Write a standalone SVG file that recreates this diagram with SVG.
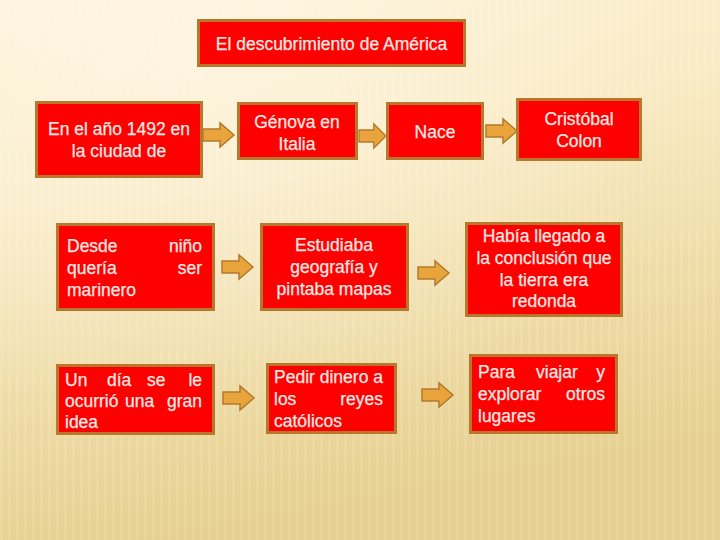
<svg xmlns="http://www.w3.org/2000/svg" width="720" height="540" viewBox="0 0 720 540">
<style>
.box{fill:#fe0000;stroke:#b8772d;stroke-width:3}
.t{font-family:"Liberation Sans",Arial,sans-serif;font-size:17.5px;fill:#f6e8e4;stroke:#f6e8e4;stroke-width:0.25}
.c{text-anchor:middle}
.e{text-anchor:end}
.arr{fill:#e9a53c;stroke:#b27a2f;stroke-width:1.5}
</style>
<defs>
<linearGradient id="bg" x1="0" y1="0" x2="0.25" y2="1">
<stop offset="0" stop-color="#fdf2d6"/>
<stop offset="0.35" stop-color="#f9ebc4"/>
<stop offset="1" stop-color="#e6d08f"/>
</linearGradient>
<radialGradient id="glow" cx="0.25" cy="0.1" r="0.7">
<stop offset="0" stop-color="#fffaf0" stop-opacity="0.5"/>
<stop offset="1" stop-color="#fffaf0" stop-opacity="0"/>
</radialGradient>
<pattern id="stripes" width="8" height="8" patternUnits="userSpaceOnUse">
<rect x="0" y="0" width="3" height="8" fill="#ffffff" opacity="0.1"/>
</pattern>
<path id="arrow" d="M0,-6 H17 V-12 L31,0 L17,12 V6 H0 Z"/>
</defs>
<rect width="720" height="540" fill="url(#bg)"/>
<rect width="720" height="540" fill="url(#glow)"/>
<rect width="720" height="540" fill="url(#stripes)"/>

<g id="connectors">
<use href="#arrow" class="arr" transform="translate(203,135)"/>
<use href="#arrow" class="arr" transform="translate(359,136) scale(0.87,1)"/>
<use href="#arrow" class="arr" transform="translate(486,131)"/>
<use href="#arrow" class="arr" transform="translate(222,267)"/>
<use href="#arrow" class="arr" transform="translate(418,273)"/>
<use href="#arrow" class="arr" transform="translate(223,398)"/>
<use href="#arrow" class="arr" transform="translate(422,395)"/>
</g>

<g id="title">
<rect class="box" x="198.5" y="20.5" width="266" height="45"/>
<text class="t c" x="331.5" y="50">El descubrimiento de América</text>
</g>
<g id="n1">
<rect class="box" x="36.5" y="102.5" width="165" height="74"/>
<text class="t c" x="119" y="135">En el año 1492 en</text>
<text class="t c" x="119" y="157">la ciudad de</text>
</g>
<g id="n2">
<rect class="box" x="238.5" y="103.5" width="118" height="55"/>
<text class="t c" x="297" y="128">Génova en</text>
<text class="t c" x="297" y="150">Italia</text>
</g>
<g id="n3">
<rect class="box" x="387.5" y="103.5" width="95" height="55"/>
<text class="t c" x="435" y="138">Nace</text>
</g>
<g id="n4">
<rect class="box" x="517.5" y="99.5" width="123" height="60"/>
<text class="t c" x="579" y="125">Cristóbal</text>
<text class="t c" x="579" y="147">Colon</text>
</g>
<g id="n5">
<rect class="box" x="57.5" y="224.5" width="156" height="85"/>
<text class="t" x="67" y="252">Desde</text>
<text class="t e" x="202" y="252">niño</text>
<text class="t" x="67" y="274">quería</text>
<text class="t e" x="202" y="274">ser</text>
<text class="t" x="67" y="296">marinero</text>
</g>
<g id="n6">
<rect class="box" x="261.5" y="224.5" width="146" height="85"/>
<text class="t c" x="334" y="251">Estudiaba</text>
<text class="t c" x="334" y="273">geografía y</text>
<text class="t c" x="334" y="295">pintaba mapas</text>
</g>
<g id="n7">
<rect class="box" x="466.5" y="223.5" width="155" height="92"/>
<text class="t c" x="544" y="242">Había llegado a</text>
<text class="t c" x="544" y="264">la conclusión que</text>
<text class="t c" x="544" y="286">la tierra era</text>
<text class="t c" x="544" y="307">redonda</text>
</g>
<g id="n8">
<rect class="box" x="57.5" y="365.5" width="156" height="68"/>
<text class="t" x="65" y="386">Un</text>
<text class="t" x="107" y="386">día</text>
<text class="t" x="147" y="386">se</text>
<text class="t e" x="202" y="386">le</text>
<text class="t" x="65" y="407">ocurrió</text>
<text class="t" x="125" y="407">una</text>
<text class="t e" x="202" y="407">gran</text>
<text class="t" x="65" y="428">idea</text>
</g>
<g id="n9">
<rect class="box" x="267.5" y="364.5" width="128" height="68"/>
<text class="t" x="274" y="383">Pedir dinero a</text>
<text class="t" x="274" y="405">los</text>
<text class="t e" x="383" y="405">reyes</text>
<text class="t" x="274" y="427">católicos</text>
</g>
<g id="n10">
<rect class="box" x="470.5" y="355.5" width="146" height="77"/>
<text class="t" x="478" y="378">Para</text>
<text class="t" x="536" y="378">viajar</text>
<text class="t e" x="605" y="378">y</text>
<text class="t" x="478" y="400">explorar</text>
<text class="t e" x="605" y="400">otros</text>
<text class="t" x="478" y="422">lugares</text>
</g>
</svg>
